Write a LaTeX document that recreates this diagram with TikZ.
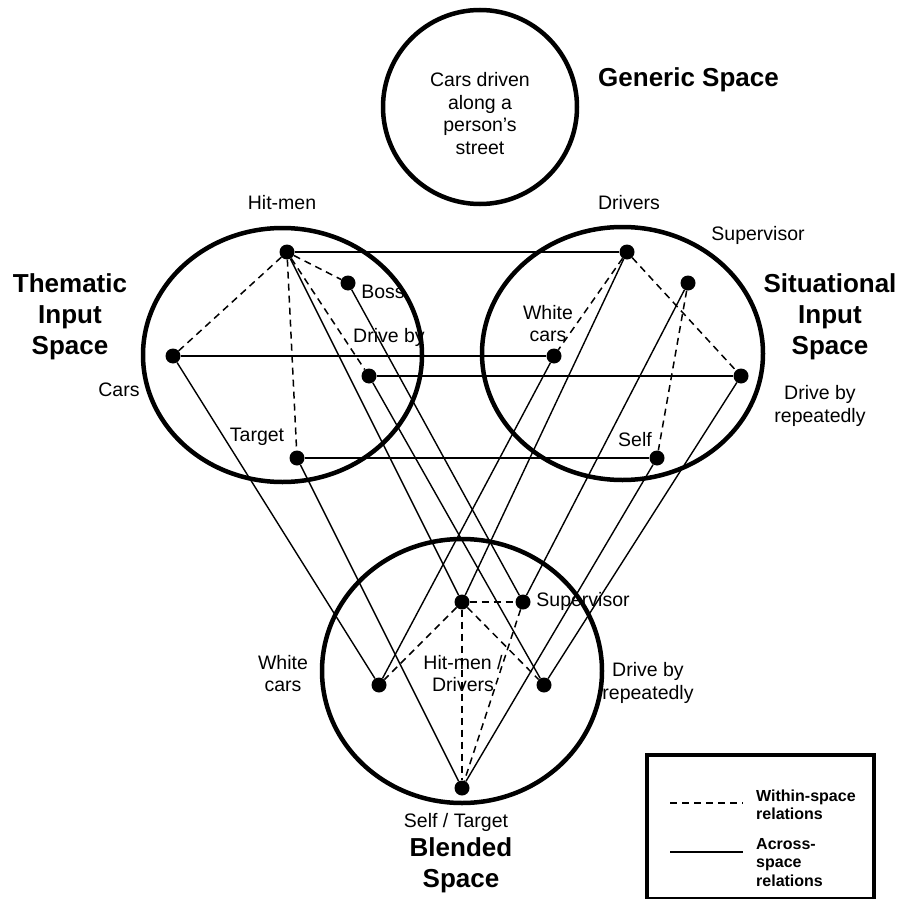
\documentclass[tikz,border=0pt]{standalone}
\usepackage{fontspec}
\setmainfont{Liberation Sans}
\begin{document}
\begin{tikzpicture}[x=1pt,y=-1pt,
  dot/.style={circle,fill=black,inner sep=0pt,minimum size=15pt},
  spaceline/.style={line width=4.5pt},
  within/.style={line width=1.5pt,dash pattern=on 7pt off 5pt},
  across/.style={line width=1.4pt},
  lbl/.style={font=\fontsize{19.5}{22.5}\selectfont,align=center,inner sep=0pt},
  ttl/.style={font=\fontsize{26}{31}\selectfont\bfseries,align=center,inner sep=0pt},
  legtext/.style={font=\fontsize{16}{18.5}\selectfont\bfseries,align=left,anchor=west,inner sep=0pt}]
\useasboundingbox (0,0) rectangle (903,899);

% spaces
\draw[spaceline] (480,107) circle [radius=97pt];
\draw[spaceline] (282.5,355) ellipse [x radius=139.5pt, y radius=127pt];
\draw[spaceline] (622.5,353.5) ellipse [x radius=140.5pt, y radius=126.5pt];
\draw[spaceline] (462,671) ellipse [x radius=140pt, y radius=132pt];

% thematic elements
\node[dot] (hitmen) at (287,252) {};
\node[dot] (boss) at (348,283) {};
\node[dot] (cars) at (173,356) {};
\node[dot] (driveby) at (369,376) {};
\node[dot] (target) at (297,458) {};
% situational elements
\node[dot] (drivers) at (627,252) {};
\node[dot] (supsit) at (688,283) {};
\node[dot] (whitesit) at (554,356) {};
\node[dot] (reptsit) at (741,376) {};
\node[dot] (self) at (657,458) {};
% blended elements
\node[dot] (hmd) at (462,602) {};
\node[dot] (supbl) at (523,602) {};
\node[dot] (whitebl) at (379,685) {};
\node[dot] (reptbl) at (544,685) {};
\node[dot] (selftarget) at (462,788) {};

% within-space relations
\draw[within] (hitmen) -- (cars);
\draw[within] (hitmen) -- (boss);
\draw[within] (hitmen) -- (target);
\draw[within] (hitmen) -- (driveby);
\draw[within] (drivers) -- (whitesit);
\draw[within] (drivers) -- (reptsit);
\draw[within] (supsit) -- (self);
\draw[within] (hmd) -- (supbl);
\draw[within] (hmd) -- (whitebl);
\draw[within] (hmd) -- (reptbl);
\draw[within] (hmd) -- (selftarget);
\draw[within] (supbl) -- (selftarget);

% across-space relations
\draw[across] (hitmen) -- (drivers);
\draw[across] (cars) -- (whitesit);
\draw[across] (driveby) -- (reptsit);
\draw[across] (target) -- (self);
\draw[across] (hitmen) -- (hmd);
\draw[across] (drivers) -- (hmd);
\draw[across] (boss) -- (supbl);
\draw[across] (supsit) -- (supbl);
\draw[across] (cars) -- (whitebl);
\draw[across] (whitesit) -- (whitebl);
\draw[across] (driveby) -- (reptbl);
\draw[across] (reptsit) -- (reptbl);
\draw[across] (target) -- (selftarget);
\draw[across] (self) -- (selftarget);

% generic space
\node[lbl] (generictext) at (480,113.5) {Cars driven\\along a\\person{\char39}s\\street};
\node[ttl,anchor=west] (generictitle) at (598,80) {Generic Space};

% thematic labels
\node[ttl] (thematic) at (70,317) {Thematic\\Input\\Space};
\node[lbl] (lhitmen) at (282,203) {Hit-men};
\node[lbl] (lboss) at (383,292) {Boss};
\node[lbl] (ldriveby) at (389,337) {Drive by};
\node[lbl] (lcars) at (119,390) {Cars};
\node[lbl] (ltarget) at (257,437) {Target};

% situational labels
\node[ttl] (situational) at (830,317) {Situational\\Input\\Space};
\node[lbl] (ldrivers) at (629,203) {Drivers};
\node[lbl] (lsupsit) at (758,235) {Supervisor};
\node[lbl] (lwhitesit) at (548,323.5) {White\\cars};
\node[lbl] (lreptsit) at (820,406) {Drive by\\repeatedly};
\node[lbl] (lself) at (635,440) {Self};

% blended labels
\node[lbl] (lsupbl) at (583,601) {Supervisor};
\node[lbl] (lwhitebl) at (283,673.5) {White\\cars};
\node[lbl] (lhmd) at (463,673.5) {Hit-men /\\Drivers};
\node[lbl] (lreptbl) at (648,683) {Drive by\\repeatedly};
\node[lbl] (lselftarget) at (456,822) {Self / Target};
\node[ttl] (blended) at (461,865) {Blended\\Space};

% legend
\draw[line width=4pt] (647,755) rectangle (874,899);
\coordinate (wa) at (670,803);
\coordinate (wb) at (743,803);
\coordinate (aa) at (670,852);
\coordinate (ab) at (743,852);
\draw[within] (wa) -- (wb);
\draw[line width=2pt] (aa) -- (ab);
\node[legtext] (lwithin) at (756,805) {Within-space\\relations};
\node[legtext] (lacross) at (756,862.5) {Across-\\space\\relations};
\end{tikzpicture}
\end{document}
